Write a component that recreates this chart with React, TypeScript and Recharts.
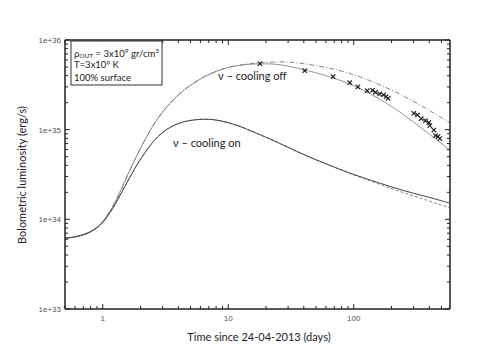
import React from 'react';
import { ComposedChart, Line, Scatter, XAxis, YAxis } from 'recharts';

const times = [0.5, 0.6, 0.7, 0.8, 0.9, 1, 1.2, 1.4, 1.6, 1.8, 2, 2.5, 3, 3.5, 4, 5, 6.5, 8, 10, 12, 15, 20, 25, 30, 40, 50, 70, 90, 120, 160, 220, 300, 400, 500, 580];

const coolOffUpper = [6.15e33, 6.35e33, 6.7e33, 7.3e33, 8.1e33, 9.3e33, 1.35e34, 2.14e34, 3.27e34, 4.62e34, 6.24e34, 1.12e35, 1.59e35, 2.02e35, 2.47e35, 3.16e35, 3.95e35, 4.49e35, 4.97e35, 5.22e35, 5.45e35, 5.62e35, 5.7e35, 5.72e35, 5.45e35, 5.19e35, 4.73e35, 4.32e35, 3.76e35, 3.2e35, 2.6e35, 2.07e35, 1.64e35, 1.36e35, 1.2e35];

const coolOffLower = [6.15e33, 6.35e33, 6.7e33, 7.3e33, 8.1e33, 9.3e33, 1.35e34, 2.14e34, 3.27e34, 4.62e34, 6.24e34, 1.12e35, 1.59e35, 2.02e35, 2.47e35, 3.16e35, 3.95e35, 4.49e35, 4.97e35, 5.22e35, 5.4e35, 5.45e35, 5.35e35, 5.13e35, 4.68e35, 4.32e35, 3.76e35, 3.31e35, 2.75e35, 2.21e35, 1.68e35, 1.22e35, 8.9e34, 7.0e34, 5.96e34];

const coolOnSolid = [6.15e33, 6.35e33, 6.7e33, 7.2e33, 8.0e33, 9.1e33, 1.3e34, 1.95e34, 2.75e34, 3.7e34, 4.7e34, 7.4e34, 9.4e34, 1.08e35, 1.18e35, 1.28e35, 1.32e35, 1.29e35, 1.2e35, 1.11e35, 9.77e34, 8.22e34, 7.16e34, 6.34e34, 5.27e34, 4.61e34, 3.82e34, 3.33e34, 2.9e34, 2.54e34, 2.2e34, 1.95e34, 1.76e34, 1.61e34, 1.52e34];

const coolOnDashed = [6.15e33, 6.35e33, 6.7e33, 7.2e33, 8.0e33, 9.1e33, 1.3e34, 1.95e34, 2.75e34, 3.7e34, 4.7e34, 7.4e34, 9.4e34, 1.08e35, 1.18e35, 1.28e35, 1.32e35, 1.29e35, 1.2e35, 1.11e35, 9.77e34, 8.22e34, 7.16e34, 6.34e34, 5.27e34, 4.61e34, 3.82e34, 3.3e34, 2.85e34, 2.46e34, 2.1e34, 1.83e34, 1.6e34, 1.44e34, 1.35e34];

const obsTimes = [17.9, 40.7, 68.5, 93, 108, 128, 141, 149, 161, 173, 181, 188, 301, 322, 345, 373, 397, 404, 435, 449, 469, 486];
const obsLum = [5.45e35, 4.55e35, 3.9e35, 3.34e35, 3.01e35, 2.72e35, 2.75e35, 2.61e35, 2.5e35, 2.44e35, 2.33e35, 2.24e35, 1.52e35, 1.46e35, 1.33e35, 1.26e35, 1.2e35, 1.11e35, 9.9e34, 8.6e34, 8.35e34, 7.95e34];

const xMajorTicks = [1, 10, 100];
const xTicks = [0.5, 0.6, 0.7, 0.8, 0.9, 1, 2, 3, 4, 5, 6, 7, 8, 9, 10, 20, 30, 40, 50, 60, 70, 80, 90, 100, 200, 300, 400, 500];
const yMajorTicks = [1e33, 1e34, 1e35, 1e36];
const yTickLabels = ['1e+33', '1e+34', '1e+35', '1e+36'];
const yTicks = [1e33, 2e33, 3e33, 4e33, 5e33, 6e33, 7e33, 8e33, 9e33, 1e34, 2e34, 3e34, 4e34, 5e34, 6e34, 7e34, 8e34, 9e34, 1e35, 2e35, 3e35, 4e35, 5e35, 6e35, 7e35, 8e35, 9e35, 1e36];

const lineData = times.map((t, i) => ({
  t,
  offUpper: coolOffUpper[i],
  offLower: coolOffLower[i],
  onSolid: coolOnSolid[i],
  onDashed: coolOnDashed[i],
}));
const obsData = obsTimes.map((t, i) => ({ t, L: obsLum[i] }));

const FRAME = '#222';
const isMajorX = (v: number) => xMajorTicks.some((m) => Math.abs(m - v) < 1e-9);
const isMajorY = (v: number) => yMajorTicks.some((m) => Math.abs(m / v - 1) < 1e-6);

const BottomTick = (props: any) => {
  const { x, y, payload } = props;
  const major = isMajorX(payload.value);
  return (
    <g>
      <line x1={x} x2={x} y1={y} y2={y - (major ? 5 : 3)} stroke={FRAME} strokeWidth={1} />
      {major && (
        <text x={x} y={y + 12} textAnchor="middle" fontSize={8} fill="#555" fontFamily="Liberation Sans, Arial, sans-serif">
          {String(payload.value)}
        </text>
      )}
    </g>
  );
};

const TopTick = (props: any) => {
  const { x, y, payload } = props;
  const major = isMajorX(payload.value);
  return <line x1={x} x2={x} y1={y} y2={y + (major ? 5 : 3)} stroke={FRAME} strokeWidth={1} />;
};

const LeftTick = (props: any) => {
  const { x, y, payload } = props;
  const major = isMajorY(payload.value);
  const idx = yMajorTicks.findIndex((m) => Math.abs(m / payload.value - 1) < 1e-6);
  return (
    <g>
      <line x1={x} x2={x + (major ? 5 : 3)} y1={y} y2={y} stroke={FRAME} strokeWidth={1} />
      {major && (
        <text x={x - 4} y={y + 3} textAnchor="end" fontSize={8} fill="#555" fontFamily="Liberation Sans, Arial, sans-serif">
          {yTickLabels[idx]}
        </text>
      )}
    </g>
  );
};

const RightTick = (props: any) => {
  const { x, y, payload } = props;
  const major = isMajorY(payload.value);
  return <line x1={x} x2={x - (major ? 5 : 3)} y1={y} y2={y} stroke={FRAME} strokeWidth={1} />;
};

const CrossShape = (props: any) => {
  const { cx, cy } = props;
  const r = 2.2;
  return (
    <path
      d={`M${cx - r},${cy - r}L${cx + r},${cy + r}M${cx - r},${cy + r}L${cx + r},${cy - r}`}
      stroke="#222"
      strokeWidth={1.2}
      fill="none"
    />
  );
};

const FONT = 'Lato, "Open Sans", sans-serif';

export default function App() {
  return (
    <div style={{ position: 'relative', width: 480, height: 360 }}>
      <ComposedChart width={480} height={360} data={lineData} margin={{ top: 30, right: 30, bottom: 39, left: 12 }}>
        <XAxis
          dataKey="t"
          type="number"
          scale="log"
          domain={[0.5, 585]}
          allowDataOverflow
          ticks={xTicks}
          tick={<BottomTick />}
          tickSize={0}
          tickMargin={0}
          tickLine={false}
          axisLine={{ stroke: FRAME, strokeWidth: 1.5 }}
          height={20}
          interval={0}
        />
        <XAxis
          xAxisId="top"
          orientation="top"
          dataKey="t"
          type="number"
          scale="log"
          domain={[0.5, 585]}
          allowDataOverflow
          ticks={xTicks}
          tick={<TopTick />}
          tickSize={0}
          tickMargin={0}
          tickLine={false}
          axisLine={{ stroke: FRAME, strokeWidth: 1.5 }}
          height={2}
          interval={0}
        />
        <YAxis
          type="number"
          scale="log"
          domain={[1e33, 1e36]}
          allowDataOverflow
          ticks={yTicks}
          tick={<LeftTick />}
          tickSize={0}
          tickMargin={0}
          tickLine={false}
          axisLine={{ stroke: FRAME, strokeWidth: 1.5 }}
          width={45}
          interval={0}
        />
        <YAxis
          yAxisId="right"
          orientation="right"
          type="number"
          scale="log"
          domain={[1e33, 1e36]}
          allowDataOverflow
          ticks={yTicks}
          tick={<RightTick />}
          tickSize={0}
          tickMargin={0}
          tickLine={false}
          axisLine={{ stroke: FRAME, strokeWidth: 1.5 }}
          width={8}
          interval={0}
        />
        <Line dataKey="offUpper" type="basis" stroke="#666" strokeWidth={0.8} strokeDasharray="5 2 1 2" dot={false} isAnimationActive={false} />
        <Line dataKey="offLower" type="basis" stroke="#777" strokeWidth={0.8} dot={false} isAnimationActive={false} />
        <Line dataKey="onDashed" type="basis" stroke="#666" strokeWidth={0.8} strokeDasharray="3 2" dot={false} isAnimationActive={false} />
        <Line dataKey="onSolid" type="basis" stroke="#444" strokeWidth={1} dot={false} isAnimationActive={false} />
        <Scatter data={obsData} dataKey="L" shape={<CrossShape />} isAnimationActive={false} />
      </ComposedChart>
      <svg width={480} height={360} style={{ position: 'absolute', left: 0, top: 0, pointerEvents: 'none' }}>
        <rect x={63} y={33} width={91} height={44} fill="#fff" stroke="#333" strokeWidth={1} />
        <text x={66} y={48.5} fontSize={9.5} fill="#222" fontFamily={FONT}>
          <tspan>ρ</tspan>
          <tspan fontSize={6.5} dy={1.5}>OUT</tspan>
          <tspan dy={-1.5}> = 3x10</tspan>
          <tspan fontSize={6.5} dy={-3.5}>9</tspan>
          <tspan dy={3.5}> gr/cm</tspan>
          <tspan fontSize={6.5} dy={-3.5}>3</tspan>
        </text>
        <text x={66} y={59.5} fontSize={9.5} fill="#222" fontFamily={FONT}>
          <tspan>T=3x10</tspan>
          <tspan fontSize={6.5} dy={-3}>9</tspan>
          <tspan dy={3}> K</tspan>
        </text>
        <text x={66} y={72.5} fontSize={9.5} fill="#222" fontFamily={FONT}>100% surface</text>
        <text x={210} y={71.5} fontSize={11} fill="#222" fontFamily={FONT}>ν – cooling off</text>
        <text x={165} y={138.5} fontSize={11} fill="#222" fontFamily={FONT}>ν – cooling on</text>
        <text x={251} y={333} fontSize={11} fill="#222" textAnchor="middle" fontFamily={FONT}>Time since 24-04-2013 (days)</text>
        <text transform="translate(18,167) rotate(-90)" fontSize={11} fill="#222" textAnchor="middle" fontFamily={FONT}>Bolometric luminosity (erg/s)</text>
      </svg>
    </div>
  );
}
